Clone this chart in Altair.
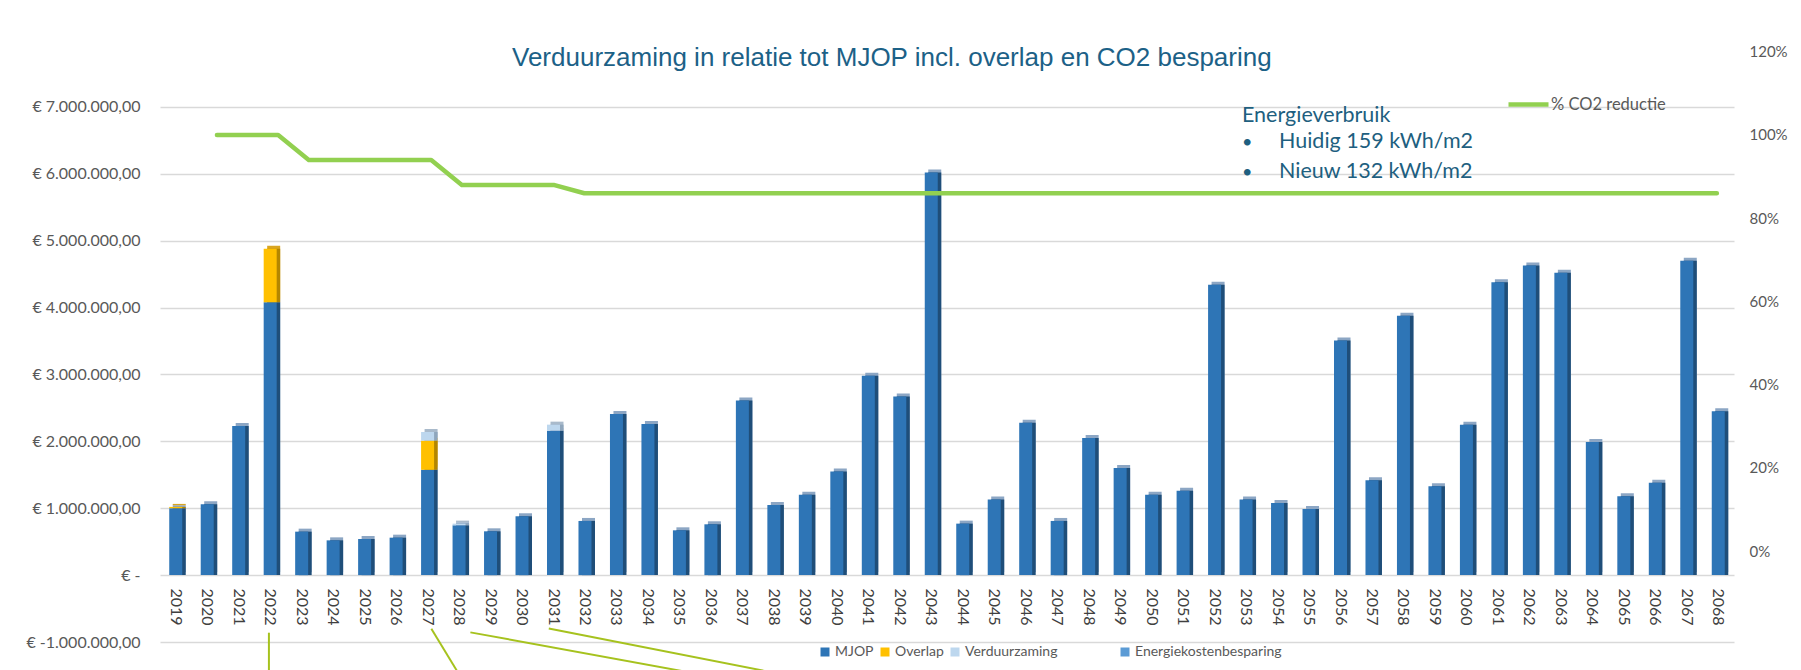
import altair as alt
import pandas as pd

# ---------------- data ----------------
years = [2019, 2020, 2021, 2022, 2023, 2024, 2025, 2026, 2027, 2028,
         2029, 2030, 2031, 2032, 2033, 2034, 2035, 2036, 2037, 2038,
         2039, 2040, 2041, 2042, 2043, 2044, 2045, 2046, 2047, 2048,
         2049, 2050, 2051, 2052, 2053, 2054, 2055, 2056, 2057, 2058,
         2059, 2060, 2061, 2062, 2063, 2064, 2065, 2066, 2067, 2068]

mjop = [1000000, 1060000, 2230000, 4080000, 650000, 520000, 540000, 560000, 1575000, 745000,
        655000, 880000, 2160000, 810000, 2410000, 2260000, 670000, 760000, 2610000, 1050000,
        1200000, 1550000, 2980000, 2670000, 6020000, 770000, 1130000, 2280000, 810000, 2050000,
        1600000, 1200000, 1260000, 4340000, 1130000, 1080000, 990000, 3510000, 1420000, 3880000,
        1330000, 2250000, 4380000, 4630000, 4520000, 1990000, 1180000, 1380000, 4700000, 2450000]

overlap = [20000, 0, 0, 800000, 0, 0, 0, 0, 435000, 0,
           0, 0, 0, 0, 0, 0, 0, 0, 0, 0,
           0, 0, 0, 0, 0, 0, 0, 0, 0, 0,
           0, 0, 0, 0, 0, 0, 0, 0, 0, 0,
           0, 0, 0, 0, 0, 0, 0, 0, 0, 0]

verduurzaming = [0, 0, 0, 0, 0, 0, 0, 0, 130000, 25000,
                 0, 0, 90000, 0, 0, 0, 0, 0, 0, 0,
                 0, 0, 0, 0, 0, 0, 0, 0, 0, 0,
                 0, 0, 0, 0, 0, 0, 0, 0, 0, 0,
                 0, 0, 0, 0, 0, 0, 0, 0, 0, 0]

energiekostenbesparing = [0, 0, 0, 0, 0, 0, 0, 0, 0, 0,
                          0, 0, 0, 0, 0, 0, 0, 0, 0, 0,
                          0, 0, 0, 0, 0, 0, 0, 0, 0, 0,
                          0, 0, 0, 0, 0, 0, 0, 0, 0, 0,
                          0, 0, 0, 0, 0, 0, 0, 0, 0, 0]

co2_reductie = [1.00, 1.00, 1.00, 0.94, 0.94, 0.94, 0.94, 0.94, 0.88, 0.88,
                0.88, 0.88, 0.86, 0.86, 0.86, 0.86, 0.86, 0.86, 0.86, 0.86,
                0.86, 0.86, 0.86, 0.86, 0.86, 0.86, 0.86, 0.86, 0.86, 0.86,
                0.86, 0.86, 0.86, 0.86, 0.86, 0.86, 0.86, 0.86, 0.86, 0.86,
                0.86, 0.86, 0.86, 0.86, 0.86, 0.86, 0.86, 0.86, 0.86, 0.86]

series_names = ["MJOP", "Overlap", "Verduurzaming"]
energy_name = "Energiekostenbesparing"
line_name = "% CO2 reductie"
left_ticks = [-1000000, 0, 1000000, 2000000, 3000000, 4000000, 5000000, 6000000, 7000000]
right_ticks = [0, 0.2, 0.4, 0.6, 0.8, 1.0, 1.2]

title_text = "Verduurzaming in relatie tot MJOP incl. overlap en CO2 besparing"
box_title = "Energieverbruik"
box_items = ["Huidig 159 kWh/m2", "Nieuw 132 kWh/m2"]

# leader lines towards call-outs below the chart (year position, amount)
leader_x1 = [2021.96, 2027.12, 2028.36, 2030.85]
leader_y1 = [-861000, -801000, -856000, -797000]
leader_x2 = [2021.96, 2027.95, 2035.2, 2037.83]
leader_y2 = [-1444000, -1444000, -1444000, -1444000]

# ---------------- styles ----------------
front_colors = ["#2E75B6", "#FFC000", "#BDD7EE"]
energy_color = "#5B9BD5"
side_colors = {"MJOP": "#1F4E79", "Overlap": "#B38600", "Verduurzaming": "#8FA6BC"}
top_colors = {"MJOP": "#8CA6C4", "Overlap": "#D9A521", "Verduurzaming": "#A9BACB"}
grey = "#595959"

W, H = 1574, 634

rows = []
for i, yr in enumerate(years):
    for k, (name, vals) in enumerate([("MJOP", mjop), ("Overlap", overlap),
                                      ("Verduurzaming", verduurzaming)]):
        rows.append({"jaar": str(yr), "reeks": name, "bedrag": vals[i], "volgorde": k,
                     "zij": side_colors[name], "top": top_colors[name]})
bars_df = pd.DataFrame(rows)
energy_df = pd.DataFrame({"jaar": [str(y) for y in years], "bedrag": energiekostenbesparing,
                          "reeks": energy_name})
line_df = pd.DataFrame({"jaar": years, "co2": co2_reductie, "naam": line_name})
leader_df = pd.DataFrame({"x1": leader_x1, "y1": leader_y1, "x2": leader_x2, "y2": leader_y2})

x_band = alt.Scale(domain=[str(y) for y in years], paddingInner=0, paddingOuter=0)
y_left = alt.Scale(domain=[-1000000, 8480000], nice=False, zero=False)
y_right = alt.Scale(domain=[-0.218, 1.305], nice=False, zero=False)

left_label = ("datum.value == 0 ? '€ -' : '€ ' + replace(replace(replace(replace("
              "format(datum.value, ',.2f'), regexp(',', 'g'), '#'), regexp('[.]', 'g'), ','),"
              " regexp('#', 'g'), '.'), '\u2212', '-')")

x_axis = alt.Axis(title=None, labelAngle=90, labelFont="Lato", labelFontSize=16,
                  labelColor="#404040", labelPadding=13, offset=-67,
                  domain=False, ticks=False, grid=False, labelOverlap=False)
y_axis = alt.Axis(title=None, values=left_ticks, labelExpr=left_label,
                  grid=True, gridColor="#D9D9D9", gridWidth=1.5,
                  domain=False, ticks=False, labelFont="Lato", labelFontSize=16,
                  labelColor=grey, labelPadding=20)

X = alt.X("jaar:N", scale=x_band, sort=None, axis=x_axis)
Y = alt.Y("bedrag:Q", stack="zero", scale=y_left, axis=y_axis)

base = alt.Chart(bars_df)

top_face = base.mark_bar(size=13, xOffset=3.5, yOffset=-3).encode(
    x=X, y=Y, color=alt.Color("top:N", scale=None), detail="reeks:N",
    order=alt.Order("volgorde:Q"),
)
side_face = base.mark_bar(size=13, xOffset=3.5).encode(
    x=X, y=Y, color=alt.Color("zij:N", scale=None), detail="reeks:N",
    order=alt.Order("volgorde:Q"),
)
front = base.mark_bar(size=13).encode(
    x=X, y=Y,
    color=alt.Color("reeks:N",
                    scale=alt.Scale(domain=series_names, range=front_colors),
                    legend=alt.Legend(title=None, orient="none", legendX=658, legendY=637,
                                      direction="horizontal", columns=3,
                                      symbolType="square", symbolSize=81,
                                      symbolStrokeWidth=0, labelFont="Lato",
                                      labelFontSize=14, labelColor=grey,
                                      columnPadding=4, labelOffset=3, padding=0)),
    order=alt.Order("volgorde:Q"),
)
energy = alt.Chart(energy_df).mark_bar(size=13).encode(
    x=X,
    y=alt.Y("bedrag:Q", scale=y_left, axis=y_axis),
    fill=alt.Fill("reeks:N",
                  scale=alt.Scale(domain=[energy_name], range=[energy_color]),
                  legend=alt.Legend(title=None, orient="none", legendX=958, legendY=637,
                                    symbolType="square", symbolSize=81,
                                    symbolStrokeWidth=0, labelFont="Lato",
                                    labelFontSize=14, labelColor=grey,
                                    labelOffset=3, padding=0)),
)
bars = alt.layer(top_face, side_face, front, energy)

line = alt.Chart(line_df).mark_line(strokeWidth=4.5, strokeCap="round",
                                    strokeJoin="round").encode(
    x=alt.X("jaar:Q", scale=alt.Scale(domain=[2017.14, 2068.56], nice=False, zero=False),
            axis=None),
    y=alt.Y("co2:Q", scale=y_right,
            axis=alt.Axis(title=None, orient="right", values=right_ticks, format=".0%",
                          grid=False, domain=False, ticks=False, labelFont="Lato",
                          labelFontSize=15, labelColor=grey, labelPadding=15)),
    stroke=alt.Stroke("naam:N",
                      scale=alt.Scale(domain=[line_name], range=["#92D050"]),
                      legend=alt.Legend(title=None, orient="none", legendX=1346, legendY=74,
                                        symbolType="stroke", symbolSize=1600,
                                        symbolStrokeWidth=4.5, labelFont="Lato",
                                        labelFontSize=16.5, labelColor=grey,
                                        labelOffset=0, padding=0)),
)

leaders = alt.Chart(leader_df).mark_rule(color="#A6C21E", strokeWidth=2).encode(
    x=alt.X("x1:Q", scale=alt.Scale(domain=[2018.5, 2068.5], nice=False, zero=False), axis=None),
    x2="x2:Q",
    y=alt.Y("y1:Q", scale=y_left, axis=None),
    y2="y2:Q",
)

text_color = "#1E5F80"


def note(txt, px, py, size=21.5):
    return alt.Chart(pd.DataFrame({"t": [txt]})).mark_text(
        align="left", baseline="middle", font="Lato", fontSize=size, color=text_color
    ).encode(x=alt.value(px), y=alt.value(py), text="t:N")


notes = [note(box_title, 1082, 108)]
for j, item in enumerate(box_items):
    notes.append(note("\u2022", 1082, 135 + 30 * j, 18))
    notes.append(note(item, 1119, 134 + 30 * j))

chart = alt.layer(bars, line, leaders, *notes).resolve_scale(
    x="independent", y="independent"
).properties(
    width=W, height=H,
    background="white",
    autosize=alt.AutoSizeParams(type="none"),
    padding={"left": 152, "top": 0, "right": 55, "bottom": 30},
    title=alt.TitleParams(text=title_text, font="Liberation Sans", fontSize=26,
                          fontWeight="normal", color="#1C6187", anchor="start",
                          frame="group", dx=352, offset=-84, baseline="alphabetic",
                          orient="top"),
).configure_view(strokeWidth=0)

chart.save("out.html", embed_options={"renderer": "svg", "actions": False})
